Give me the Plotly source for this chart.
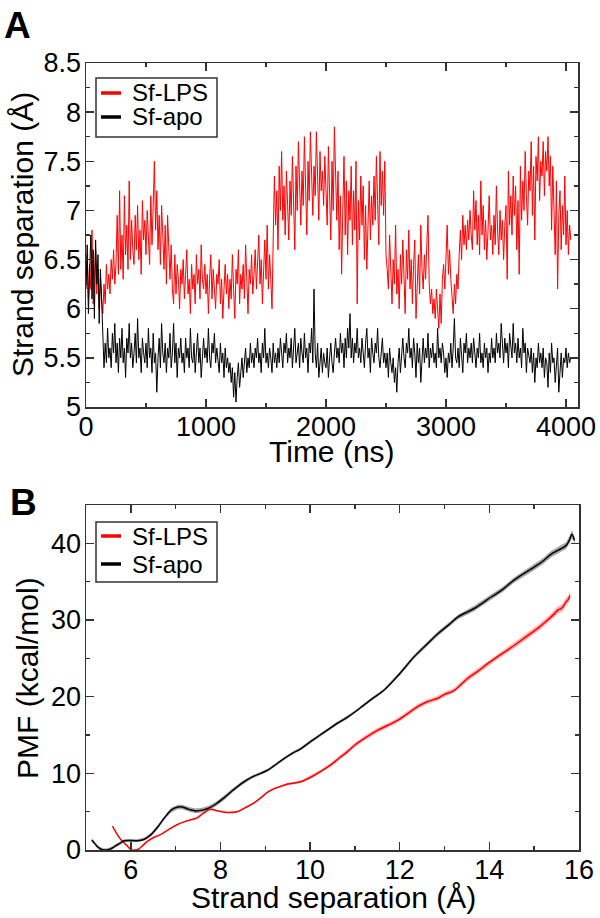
import plotly.graph_objects as go

# ---------------- Panel A data: strand separation vs time (10 ns sampling) ----------------
sf_lps_sep = [
    6.25, 6.55, 6.10, 6.45, 6.20, 6.80, 6.05, 6.35, 6.60, 6.15,
    6.40, 6.00, 6.30, 6.10, 5.95, 6.25, 6.05, 6.45, 6.20, 6.35,
    6.15, 6.50, 6.30, 6.60, 6.25, 6.45, 6.95, 6.35, 7.20, 6.40,
    6.75, 6.30, 7.15, 6.55, 6.85, 6.40, 7.30, 6.50, 6.90, 6.60,
    6.45, 6.95, 6.60, 7.05, 6.50, 6.80, 6.35, 7.10, 6.70, 6.90,
    6.55, 7.00, 6.70, 6.45, 7.15, 6.65, 7.05, 7.50, 6.80, 7.20,
    6.60, 6.95, 6.45, 7.05, 6.75, 6.40, 6.85, 6.25, 6.95, 6.50,
    6.30, 6.65, 6.20, 6.05, 6.55, 6.15, 6.45, 6.30, 6.00, 6.40,
    6.25, 6.50, 6.10, 6.35, 6.60, 6.15, 6.30, 5.95, 6.45, 6.20,
    6.35, 6.05, 6.55, 6.25, 6.40, 6.10, 6.65, 6.30, 6.20, 6.45,
    6.15, 6.35, 5.95, 6.30, 6.55, 6.10, 6.40, 6.20, 6.00, 6.35,
    6.25, 6.50, 6.05, 6.30, 5.90, 6.20, 6.45, 6.15, 6.35, 6.00,
    6.30, 6.10, 6.55, 6.20, 5.90, 6.40, 6.25, 6.60, 6.05, 6.35,
    6.20, 6.45, 6.10, 6.65, 6.30, 5.95, 6.40, 6.25, 6.55, 6.15,
    6.35, 6.60, 6.20, 6.45, 6.75, 6.25, 6.50, 6.05, 6.40, 6.70,
    6.30, 6.85, 6.20, 6.55, 6.30, 6.00, 6.70, 7.35, 6.85, 7.20,
    6.60, 7.45, 7.00, 7.60, 6.90, 7.25, 6.75, 7.40, 7.05, 6.70,
    7.30, 6.95, 7.55, 7.10, 6.60, 7.45, 7.00, 7.70, 7.15, 6.85,
    7.40, 7.05, 7.75, 7.20, 6.75, 7.50, 7.10, 7.80, 7.25, 6.95,
    7.45, 7.15, 7.80, 7.30, 6.90, 7.60, 7.20, 7.40, 7.05, 7.55,
    7.25, 6.85, 7.65, 7.10, 6.70, 7.50, 7.00, 7.85, 7.20, 6.90,
    7.40, 6.60, 7.15, 6.35, 7.00, 7.55, 6.75, 7.30, 6.55, 7.20,
    6.90, 7.45, 6.65, 7.20, 6.80, 7.50, 6.05, 7.10, 6.70, 7.35,
    6.85, 7.25, 6.50, 7.05, 6.40, 6.95, 7.30, 6.70, 7.15, 6.85,
    7.35, 6.90, 7.55, 7.10, 6.65, 7.60, 7.05, 7.40, 6.95, 7.50,
    6.55, 6.40, 6.20, 6.75, 6.30, 6.05, 6.50, 6.25, 6.85, 6.15,
    6.40, 6.00, 6.55, 6.25, 6.70, 6.35, 5.95, 6.60, 6.30, 6.80,
    6.20, 6.50, 6.05, 6.45, 6.70, 5.90, 6.35, 6.55, 6.15, 6.85,
    6.40, 6.20, 6.55, 6.30, 6.65, 6.95, 6.25, 6.05, 6.20, 5.95,
    6.10, 5.90, 6.20, 6.00, 5.80, 6.15, 5.85, 6.30, 6.45, 6.20,
    6.50, 6.85, 6.35, 6.60, 6.30, 6.15, 5.95, 6.25, 6.05, 6.35,
    6.20, 6.55, 6.80, 6.50, 6.95, 6.65, 6.85, 6.60, 6.90, 6.70,
    7.00, 6.75, 6.60, 7.20, 6.80, 7.10, 6.65, 6.95, 6.55, 7.30,
    6.75, 7.05, 6.60, 6.90, 6.50, 6.80, 7.15, 6.70, 6.85, 6.55,
    6.95, 6.65, 7.25, 6.80, 6.55, 7.00, 6.70, 6.90, 6.50, 6.85,
    7.05, 6.30, 7.40, 6.85, 7.15, 6.75, 7.35, 6.95, 7.25, 6.60,
    7.10, 6.35, 7.45, 6.90, 7.30, 7.00, 7.60, 7.15, 6.85, 7.40,
    7.20, 7.70, 6.95, 7.45, 6.70, 7.55, 7.30, 7.75, 7.10, 7.50,
    7.35, 7.70, 7.15, 7.60, 7.40, 7.75, 7.25, 7.55, 6.80, 7.45,
    7.10, 6.55, 7.30, 6.20, 6.95, 7.20, 6.60, 7.05, 6.75, 7.35,
    6.65, 7.00, 6.55, 6.85, 6.70,
]

sf_apo_sep = [
    6.20, 6.65, 5.95, 6.50, 6.75, 6.10, 6.60, 5.90, 6.70, 6.25,
    6.55, 5.85, 6.40, 6.10, 5.75, 5.40, 5.65, 5.45, 5.80, 5.50,
    5.60, 5.40, 5.75, 5.55, 5.85, 5.45, 5.65, 5.35, 5.70, 5.50,
    5.80, 5.45, 5.60, 5.30, 5.70, 5.55, 5.85, 5.50, 5.65, 5.40,
    5.55, 5.75, 5.45, 5.90, 5.50, 5.60, 5.35, 5.70, 5.55, 5.45,
    5.65, 5.40, 5.80, 5.50, 5.60, 5.35, 5.75, 5.45, 5.55, 5.15,
    5.50, 5.70, 5.40, 5.85, 5.55, 5.45, 5.65, 5.35, 5.60, 5.50,
    5.75, 5.40, 5.55, 5.85, 5.45, 5.65, 5.30, 5.60, 5.50, 5.70,
    5.45, 5.55, 5.35, 5.70, 5.50, 5.60, 5.40, 5.80, 5.50, 5.45,
    5.65, 5.35, 5.55, 5.75, 5.45, 5.60, 5.30, 5.55, 5.70, 5.50,
    5.60, 5.45, 5.80, 5.50, 5.40, 5.65, 5.55, 5.75, 5.45, 5.60,
    5.50, 5.35, 5.65, 5.45, 5.55, 5.30, 5.60, 5.40, 5.50, 5.35,
    5.45, 5.25, 5.40, 5.10, 5.35, 5.05, 5.30, 5.45, 5.20, 5.40,
    5.50, 5.30, 5.45, 5.60, 5.35, 5.50, 5.40, 5.65, 5.45, 5.55,
    5.40, 5.60, 5.50, 5.70, 5.45, 5.55, 5.35, 5.65, 5.50, 5.80,
    5.45, 5.55, 5.40, 5.60, 5.50, 5.35, 5.65, 5.45, 5.55, 5.40,
    5.60, 5.45, 5.70, 5.50, 5.40, 5.65, 5.55, 5.75, 5.45, 5.60,
    5.50, 5.70, 5.40, 5.60, 5.80, 5.45, 5.55, 5.65, 5.40, 5.70,
    5.55, 5.45, 5.75, 5.50, 5.60, 5.35, 5.65, 5.55, 5.80, 5.45,
    6.20, 5.55, 5.40, 5.65, 5.30, 5.50, 5.60, 5.35, 5.55, 5.45,
    5.40, 5.60, 5.30, 5.50, 5.65, 5.45, 5.35, 5.55, 5.70, 5.50,
    5.60, 5.45, 5.75, 5.55, 5.65, 5.40, 5.70, 5.50, 5.80, 5.60,
    5.95, 5.50, 5.70, 5.45, 5.65, 5.55, 5.80, 5.50, 5.60, 5.45,
    5.70, 5.55, 5.40, 5.65, 5.80, 5.50, 5.60, 5.35, 5.70, 5.55,
    5.45, 5.65, 5.55, 5.80, 5.50, 5.40, 5.60, 5.70, 5.45, 5.55,
    5.40, 5.55, 5.30, 5.60, 5.45, 5.35, 5.50, 5.25, 5.40, 5.15,
    5.45, 5.60, 5.35, 5.55, 5.70, 5.50, 5.40, 5.65, 5.55, 5.80,
    5.50, 5.60, 5.40, 5.70, 5.55, 5.30, 5.65, 5.45, 5.60, 5.25,
    5.55, 5.70, 5.45, 5.60, 5.50, 5.75, 5.40, 5.60, 5.50, 5.65,
    5.45, 5.55, 5.40, 5.80, 5.50, 5.60, 5.45, 5.65, 5.55, 5.35,
    5.50, 5.30, 5.55, 5.45, 5.65, 5.40, 5.60, 5.90, 5.50, 5.45,
    5.60, 5.40, 5.70, 5.50, 5.35, 5.65, 5.55, 5.75, 5.45, 5.60,
    5.50, 5.65, 5.45, 5.70, 5.55, 5.40, 5.60, 5.50, 5.75, 5.45,
    5.55, 5.40, 5.65, 5.50, 5.60, 5.35, 5.55, 5.45, 5.70, 5.50,
    5.60, 5.45, 5.75, 5.55, 5.65, 5.50, 5.85, 5.60, 5.45, 5.70,
    5.55, 5.65, 5.40, 5.75, 5.60, 5.50, 5.85, 5.55, 5.65, 5.45,
    5.70, 5.50, 5.60, 5.40, 5.80, 5.55, 5.65, 5.35, 5.60, 5.50,
    5.45, 5.60, 5.35, 5.55, 5.25, 5.50, 5.40, 5.65, 5.45, 5.55,
    5.40, 5.60, 5.30, 5.50, 5.45, 5.20, 5.55, 5.35, 5.65, 5.45,
    5.50, 5.25, 5.45, 5.60, 5.15, 5.40, 5.55, 5.30, 5.50, 5.45,
    5.60, 5.40, 5.55, 5.45, 5.50,
]

time_step_ns = 10
time_lps = [i * time_step_ns for i in range(len(sf_lps_sep))]
time_apo = [i * time_step_ns for i in range(len(sf_apo_sep))]

# ---------------- Panel B data: PMF vs strand separation ----------------
apo_sep = [5.13, 5.20, 5.28, 5.36, 5.45, 5.55, 5.65, 5.76, 5.85, 6.00, 6.15, 6.30,
           6.45, 6.60, 6.75, 6.90, 7.05, 7.15, 7.30, 7.45, 7.60, 7.75, 7.90, 8.10,
           8.30, 8.50, 8.70, 8.90, 9.05, 9.20, 9.41, 9.60, 9.79, 10.0, 10.3, 10.6,
           10.83, 11.0, 11.2, 11.4, 11.64, 12.0, 12.32, 12.6, 12.85, 13.1, 13.3,
           13.66, 14.04, 14.3, 14.55, 15.0, 15.2, 15.38, 15.5, 15.71, 15.80, 15.84, 15.9]
apo_pmf = [1.3, 0.8, 0.3, 0.05, 0.0, 0.15, 0.5, 0.9, 1.2, 1.25, 1.2, 1.4,
           2.0, 3.0, 4.2, 5.2, 5.6, 5.6, 5.3, 5.1, 5.2, 5.5, 6.0, 6.9,
           7.9, 8.8, 9.5, 10.0, 10.4, 11.0, 11.9, 12.6, 13.2, 14.1, 15.3, 16.5,
           17.3, 18.0, 18.9, 19.8, 20.8, 23.0, 25.2, 26.8, 28.2, 29.4, 30.4,
           31.5, 33.0, 34.0, 35.2, 36.9, 37.7, 38.6, 39.0, 39.7, 40.6, 41.2, 40.4]
apo_err = [0.2, 0.2, 0.2, 0.2, 0.2, 0.2, 0.2, 0.2, 0.2, 0.2, 0.2, 0.2,
           0.25, 0.25, 0.25, 0.3, 0.3, 0.3, 0.3, 0.3, 0.3, 0.3, 0.3, 0.3,
           0.25, 0.25, 0.2, 0.2, 0.2, 0.2, 0.2, 0.2, 0.2, 0.2, 0.2, 0.2,
           0.2, 0.2, 0.2, 0.2, 0.2, 0.25, 0.25, 0.3, 0.3, 0.3, 0.3,
           0.35, 0.35, 0.35, 0.35, 0.4, 0.4, 0.4, 0.45, 0.45, 0.5, 0.5, 0.5]

lps_sep = [5.59, 5.65, 5.72, 5.80, 5.91, 6.02, 6.10, 6.17, 6.27, 6.36, 6.50, 6.66,
           6.85, 7.03, 7.25, 7.48, 7.62, 7.77, 7.95, 8.15, 8.37, 8.55, 8.74, 8.90,
           9.04, 9.20, 9.34, 9.50, 9.79, 10.08, 10.25, 10.46, 10.65, 10.83, 11.0,
           11.25, 11.5, 11.75, 11.95, 12.2, 12.4, 12.6, 12.85, 13.0, 13.21, 13.52,
           13.74, 13.96, 14.2, 14.41, 14.63, 14.86, 15.1, 15.3, 15.45, 15.53, 15.60,
           15.64, 15.70, 15.75, 15.80]
lps_pmf = [3.1, 2.5, 1.8, 1.2, 0.6, 0.0, 0.0, 0.1, 0.6, 1.1, 1.6, 2.0,
           2.7, 3.3, 3.8, 4.2, 4.8, 5.3, 5.1, 4.9, 5.0, 5.5, 6.1, 6.8,
           7.5, 8.0, 8.3, 8.6, 8.9, 9.7, 10.3, 11.1, 12.0, 12.8, 13.7,
           14.7, 15.6, 16.3, 16.9, 17.9, 18.7, 19.3, 19.8, 20.3, 20.8, 22.4,
           23.3, 24.3, 25.3, 26.1, 27.0, 28.0, 29.0, 30.0, 30.8, 31.3, 31.5,
           31.7, 32.3, 32.6, 33.2]
lps_err = [0.05, 0.05, 0.05, 0.05, 0.05, 0.05, 0.05, 0.05, 0.05, 0.05, 0.05, 0.05,
           0.08, 0.08, 0.08, 0.1, 0.1, 0.1, 0.1, 0.1, 0.1, 0.12, 0.12, 0.12,
           0.15, 0.15, 0.15, 0.15, 0.15, 0.2, 0.2, 0.25, 0.25, 0.25, 0.25,
           0.3, 0.3, 0.3, 0.3, 0.3, 0.3, 0.3, 0.3, 0.3, 0.3, 0.35,
           0.35, 0.35, 0.35, 0.35, 0.4, 0.4, 0.4, 0.4, 0.45, 0.45, 0.45,
           0.45, 0.5, 0.5, 0.5]

series_names = ["Sf-LPS", "Sf-apo"]
RED = "#ff0000"
BLACK = "#000000"
AX = "#333333"
FONT = "Liberation Sans, Arial, Helvetica, sans-serif"

W, H = 600, 918
def px(x):
    return x / W
def py(y):
    return 1 - y / H

fig = go.Figure()

# Panel A traces
fig.add_trace(go.Scatter(x=time_lps, y=sf_lps_sep, mode="lines", name=series_names[0],
                         line=dict(color=RED, width=1), xaxis="x", yaxis="y", showlegend=False))
fig.add_trace(go.Scatter(x=time_apo, y=sf_apo_sep, mode="lines", name=series_names[1],
                         line=dict(color=BLACK, width=1), xaxis="x", yaxis="y", showlegend=False))

# Panel B bands + lines
def band(xs, ys, es, color):
    upper = [y + e for y, e in zip(ys, es)]
    lower = [y - e for y, e in zip(ys, es)]
    return go.Scatter(x=list(xs) + list(xs)[::-1], y=upper + lower[::-1], fill="toself",
                      fillcolor=color, line=dict(width=0), mode="lines", hoverinfo="skip",
                      xaxis="x2", yaxis="y2", showlegend=False)

fig.add_trace(band(apo_sep, apo_pmf, apo_err, "rgba(90,90,90,0.55)"))
fig.add_trace(band(lps_sep, lps_pmf, lps_err, "rgba(255,100,100,0.55)"))
fig.add_trace(go.Scatter(x=lps_sep, y=lps_pmf, mode="lines", name=series_names[0],
                         line=dict(color=RED, width=1.5, shape="spline"), xaxis="x2", yaxis="y2",
                         showlegend=False))
fig.add_trace(go.Scatter(x=apo_sep, y=apo_pmf, mode="lines", name=series_names[1],
                         line=dict(color=BLACK, width=1.5, shape="spline"), xaxis="x2", yaxis="y2",
                         showlegend=False))

common_axis = dict(showline=True, linecolor=AX, linewidth=1.5, mirror="ticks",
                   ticks="inside", ticklen=8, tickwidth=1.5, tickcolor=AX,
                   showgrid=False, zeroline=False, automargin=False,
                   tickfont=dict(family=FONT, size=27, color="black"))

fig.update_layout(
    template="none",
    width=W, height=H, autosize=False,
    margin=dict(l=0, r=0, t=0, b=0, pad=0, autoexpand=False),
    paper_bgcolor="white", plot_bgcolor="white",
    font=dict(family=FONT, color="black"),
    showlegend=False,
    xaxis=dict(domain=[px(86), px(578)], range=[0, 4100], tickvals=[0, 1000, 2000, 3000, 4000],
               minor=dict(tickvals=[500, 1500, 2500, 3500], ticklen=4, tickwidth=1.5,
                          tickcolor=AX, ticks="inside", showgrid=False),
               anchor="y", ticklabelstandoff=-5, **common_axis),
    yaxis=dict(domain=[py(407), py(63)], range=[5, 8.5], tick0=5, dtick=0.5,
               minor=dict(dtick=0.25, ticklen=4, tickwidth=1.5, tickcolor=AX, ticks="inside",
                          showgrid=False),
               anchor="x", ticklabelstandoff=-2, **common_axis),
    xaxis2=dict(domain=[px(86), px(579)], range=[5, 16], tick0=0, dtick=2,
                minor=dict(dtick=1, ticklen=4, tickwidth=1.5, tickcolor=AX, ticks="inside",
                           showgrid=False),
                anchor="y2", ticklabelstandoff=-5, **common_axis),
    yaxis2=dict(domain=[py(850), py(505)], range=[0, 45], tick0=0, dtick=10,
                minor=dict(dtick=5, ticklen=4, tickwidth=1.5, tickcolor=AX, ticks="inside",
                           showgrid=False),
                anchor="x2", ticklabelstandoff=-2, **common_axis),
)

ann = []
def text(t, x, y, size, xanchor="center", yanchor="middle", angle=0):
    ann.append(dict(text=t, x=px(x), y=py(y), xref="paper", yref="paper", showarrow=False,
                    xanchor=xanchor, yanchor=yanchor, textangle=angle,
                    font=dict(family=FONT, size=size, color="black")))

text("<b>A</b>", 2, 3, 37, xanchor="left", yanchor="top")
text("<b>B</b>", 8, 480, 37, xanchor="left", yanchor="top")
text("Strand separation (Å)", 22, 235, 30, angle=-90)
text("Time (ns)", 332, 452, 30)
text("PMF (kcal/mol)", 27, 678, 30, angle=-90)
text("Strand separation (Å)", 333, 897, 30)

shapes = []
def legend_box(x0, y0, x1, y1, rows):
    shapes.append(dict(type="rect", xref="paper", yref="paper", x0=px(x0), x1=px(x1),
                       y0=py(y1), y1=py(y0), line=dict(color=AX, width=1.5)))
    for (yy, color, label) in rows:
        shapes.append(dict(type="line", xref="paper", yref="paper", x0=px(x0 + 5), x1=px(x0 + 25),
                           y0=py(yy), y1=py(yy), line=dict(color=color, width=3.5)))
        text(label, x0 + 34, yy, 24, xanchor="left")

legend_box(96, 78, 217, 137, [(93, RED, series_names[0]), (117, BLACK, series_names[1])])
legend_box(96, 522, 217, 582, [(536, RED, series_names[0]), (564, BLACK, series_names[1])])

fig.update_layout(annotations=ann, shapes=shapes)
fig.write_html(
    "out.html",
    config={"displayModeBar": False, "staticPlot": True},
    post_script="document.body.style.margin='0';document.body.style.padding='0';"
                "document.body.style.overflow='hidden';",
)
